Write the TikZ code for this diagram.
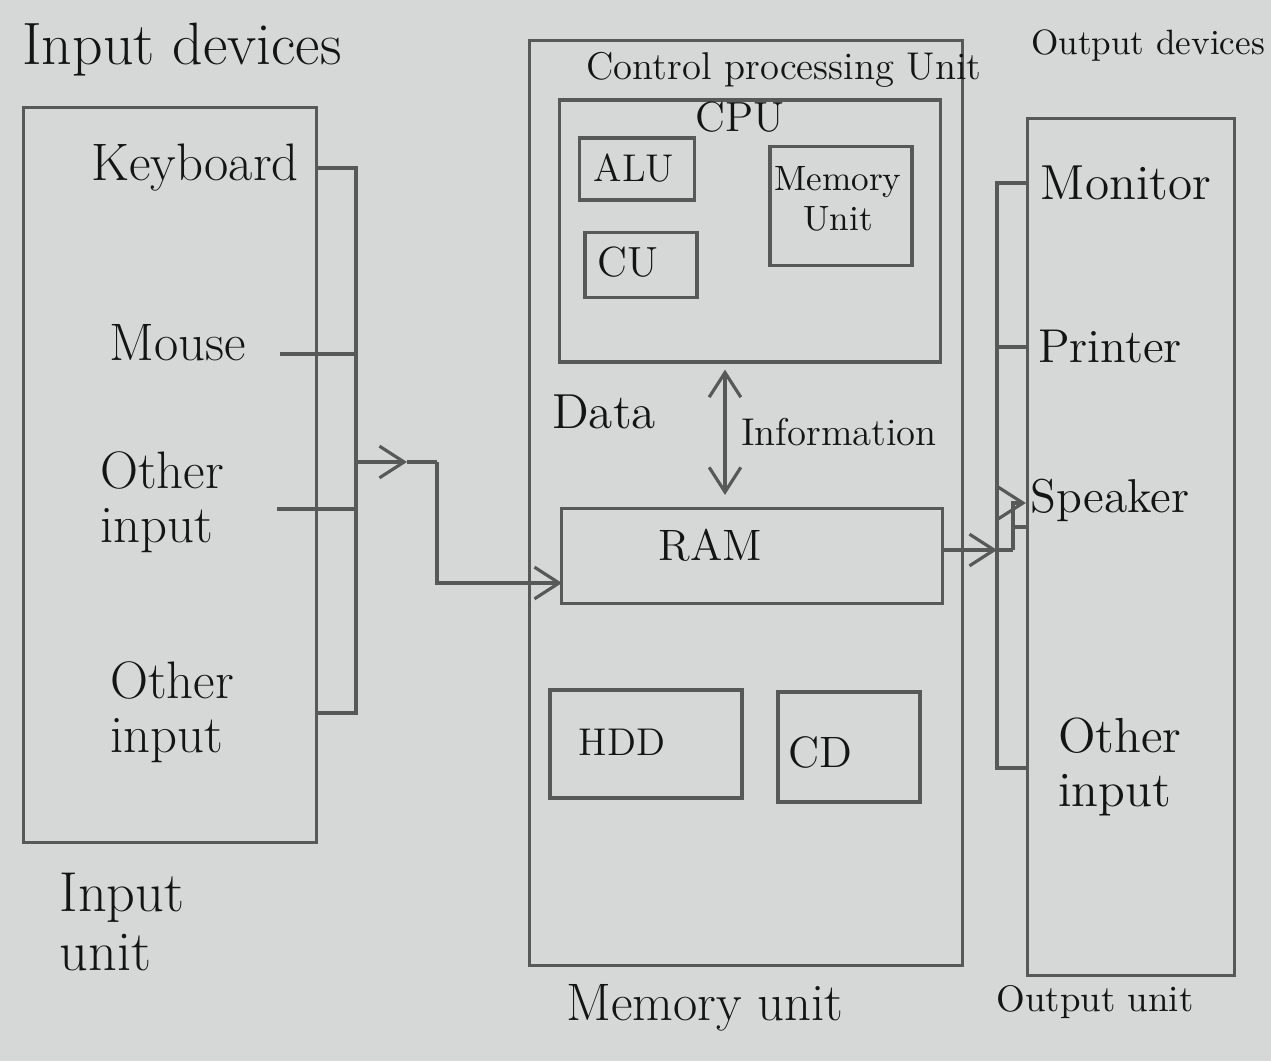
\documentclass[tikz,border=0pt]{standalone}
\usepackage{xcolor}
\usepackage{tikz}
\usetikzlibrary{arrows.meta,positioning,calc}
\definecolor{paper}{RGB}{214,215,215}
\definecolor{pencil}{RGB}{88,88,88}
\definecolor{ink}{RGB}{20,20,20}
\tikzset{
  unitbox/.style={draw=pencil, line width=0.9pt, inner sep=0pt},
  partbox/.style={draw=pencil, line width=0.9pt, inner sep=0pt},
  lbl/.style={text=ink, font=\fontsize{#1}{15.5}\selectfont, align=left, inner sep=1pt},
  lbl/.default=14,
  wire/.style={draw=pencil, line width=0.9pt},
  arr/.style={wire, -{Straight Barb[length=7pt,width=9pt]}},
  arrd/.style={wire, {Straight Barb[length=7pt,width=9pt]}-{Straight Barb[length=7pt,width=9pt]}},
}
\begin{document}
\begin{tikzpicture}[x=0.01cm,y=-0.01cm]
  \fill[paper] (0,0) rectangle (1271,1061);
  \useasboundingbox (0,0) rectangle (1271,1061);

  % input side
  \node[unitbox, minimum width=2.92cm, minimum height=7.34cm] (inunit) at (170,475) {};
  \node[lbl=17] (indev) at (182,50) {Input devices};
  \node[lbl=15] (kbd) at (195,168) {Keyboard};
  \node[lbl=15] (mouse) at (178,343) {Mouse};
  \node[lbl=15] (oin1) at (162,502) {Other\\input};
  \node[lbl=15] (oin2) at (172,712) {Other\\input};
  \node[lbl=16, font=\fontsize{16}{16.5}\selectfont] (inlbl) at (122,922) {Input\\unit};

  % memory unit
  \node[unitbox, minimum width=4.32cm, minimum height=9.25cm] (memunit) at (746,503) {};
  \node[lbl=11] (cputitle) at (784,70) {Control processing Unit};
  \node[unitbox, minimum width=3.8cm, minimum height=2.62cm] (cpu) at (750,231) {};
  \node[lbl=12] (cpulbl) at (740,117) {CPU};
  \node[partbox, minimum width=1.15cm, minimum height=0.62cm] (alu) at (637,169) {};
  \node[lbl=11] (alulbl) at (634,168) {ALU};
  \node[partbox, minimum width=1.12cm, minimum height=0.65cm] (cu) at (641,265) {};
  \node[lbl=12] (culbl) at (628,262) {CU};
  \node[partbox, minimum width=1.42cm, minimum height=1.19cm] (memu) at (841,206) {};
  \node[lbl=10, align=center, font=\fontsize{10}{11.5}\selectfont] (memulbl) at (838,199) {Memory\\Unit};
  \node[partbox, minimum width=3.8cm, minimum height=0.95cm] (ram) at (752,556) {};
  \node[lbl=12.5] (ramlbl) at (710,545) {RAM};
  \node[lbl=14] (data) at (604,412) {Data};
  \node[lbl=11] (info) at (839,432) {Information};
  \node[partbox, minimum width=1.92cm, minimum height=1.08cm] (hdd) at (646,744) {};
  \node[lbl=11] (hddlbl) at (622,742) {HDD};
  \node[partbox, minimum width=1.42cm, minimum height=1.1cm] (cd) at (849,747) {};
  \node[lbl=12.5] (cdlbl) at (820,752) {CD};
  \node[lbl=15] (memlbl) at (705,1008) {Memory unit};

  % output side
  \node[unitbox, minimum width=2.07cm, minimum height=8.57cm] (outunit) at (1131,547) {};
  \node[lbl=10] (outdev) at (1148,46) {Output devices};
  \node[lbl=14] (mon) at (1126,183) {Monitor};
  \node[lbl=13.5] (prn) at (1110,347) {Printer};
  \node[lbl=13.5] (spk) at (1110,500) {Speaker};
  \node[lbl=14] (oout) at (1120,767) {Other\\input};
  \node[lbl=10.5] (outlbl) at (1095,1002) {Output unit};

  % input bus
  \coordinate (ibtop) at (356,168);
  \coordinate (ibbot) at (356,713);
  \coordinate (msin) at (280,354);
  \coordinate (oiin) at (277,509);
  \coordinate (tap) at (356,462);
  \coordinate (tapmid) at (407,462);
  \coordinate (kink) at (437,462);
  \coordinate (ramin) at (562,583);
  \draw[wire] (inunit.east |- ibtop) -- (ibtop) -- (ibbot) -- (inunit.east |- ibbot);
  \draw[wire] (msin) -- (msin -| ibtop);
  \draw[wire] (oiin) -- (oiin -| ibtop);
  \draw[arr] (tap) -- (tapmid);
  \draw[wire] (tapmid) -- (kink);
  \draw[arr] (kink) |- (ramin);

  % cpu <-> ram
  \coordinate (infox) at (725,0);
  \draw[arrd] ($(cpu.south -| infox)+(0,6)$) -- ($(ram.north -| infox)+(0,-12)$);

  % output bus
  \coordinate (obtop) at (997,183);
  \coordinate (obbot) at (997,768);
  \coordinate (ramout) at (942,550);
  \coordinate (obtap) at (997,550);
  \coordinate (spkk) at (1013,550);
  \coordinate (spkin) at (1013,503);
  \draw[wire] (outunit.west |- obtop) -- (obtop) -- (obbot) -- (outunit.west |- obbot);
  \draw[wire] (obtop |- prn) -- (outunit.west |- prn);
  \draw[wire] (1013,527) -- (outunit.west |- 0,527);
  \draw[arr] (ramout) -- (obtap);
  \draw[wire] (obtap) -- (spkk);
  \draw[arr] (spkk) -- (spkin) -- (outunit.west |- spkin);
\end{tikzpicture}
\end{document}
